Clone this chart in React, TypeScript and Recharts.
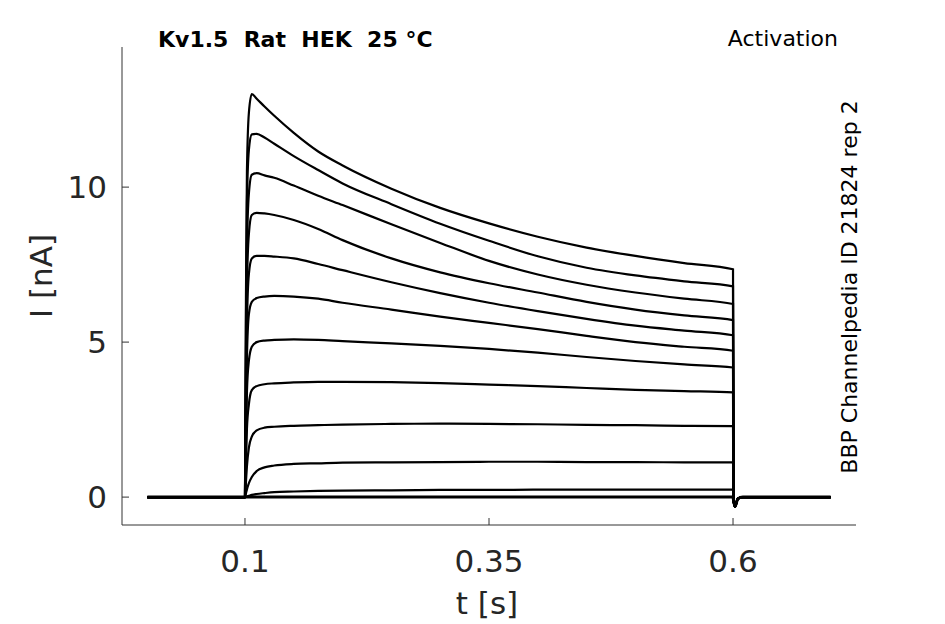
import { LineChart, Line, XAxis, YAxis } from 'recharts'

// sample times [s]
const times = [0, 0.1, 0.101, 0.102, 0.104, 0.107, 0.112, 0.12, 0.13, 0.15, 0.175, 0.2, 0.25, 0.3, 0.35, 0.4, 0.45, 0.5, 0.55, 0.6, 0.6005, 0.602, 0.605, 0.61, 0.7]

// currents [nA], one array per voltage step
const trace1 = [0, 0, 6.5, 10.5, 12.4, 13.0, 12.85, 12.6, 12.3, 11.75, 11.15, 10.7, 9.95, 9.33, 8.83, 8.4, 8.05, 7.78, 7.55, 7.35, -0.1, -0.3, -0.05, 0, 0]
const trace2 = [0, 0, 5.5, 9.5, 11.2, 11.7, 11.72, 11.6, 11.4, 11.0, 10.55, 10.12, 9.45, 8.82, 8.27, 7.77, 7.4, 7.15, 6.96, 6.8, -0.1, -0.3, -0.05, 0, 0]
const trace3 = [0, 0, 4.5, 8.0, 9.8, 10.4, 10.45, 10.38, 10.3, 10.05, 9.72, 9.42, 8.8, 8.2, 7.62, 7.18, 6.85, 6.6, 6.4, 6.23, -0.1, -0.3, -0.05, 0, 0]
const trace4 = [0, 0, 3.8, 6.8, 8.5, 9.1, 9.17, 9.15, 9.1, 8.94, 8.65, 8.29, 7.7, 7.25, 6.9, 6.6, 6.3, 6.05, 5.86, 5.71, -0.1, -0.3, -0.05, 0, 0]
const trace5 = [0, 0, 3.0, 5.6, 7.2, 7.7, 7.78, 7.78, 7.76, 7.7, 7.52, 7.32, 6.93, 6.58, 6.27, 6.0, 5.75, 5.53, 5.37, 5.22, -0.1, -0.3, -0.05, 0, 0]
const trace6 = [0, 0, 2.4, 4.5, 5.9, 6.3, 6.42, 6.47, 6.49, 6.47, 6.4, 6.27, 6.05, 5.82, 5.62, 5.42, 5.2, 5.0, 4.85, 4.72, -0.1, -0.3, -0.05, 0, 0]
const trace7 = [0, 0, 1.8, 3.4, 4.4, 4.85, 5.0, 5.05, 5.07, 5.09, 5.07, 5.03, 4.96, 4.88, 4.78, 4.66, 4.52, 4.39, 4.28, 4.18, -0.1, -0.3, -0.05, 0, 0]
const trace8 = [0, 0, 1.1, 2.2, 3.0, 3.45, 3.58, 3.64, 3.67, 3.7, 3.72, 3.72, 3.71, 3.68, 3.63, 3.58, 3.52, 3.46, 3.42, 3.38, -0.1, -0.3, -0.05, 0, 0]
const trace9 = [0, 0, 0.5, 1.0, 1.6, 1.95, 2.15, 2.24, 2.27, 2.3, 2.32, 2.34, 2.36, 2.37, 2.36, 2.35, 2.33, 2.32, 2.3, 2.29, -0.1, -0.3, -0.05, 0, 0]
const trace10 = [0, 0, 0.12, 0.25, 0.45, 0.65, 0.84, 0.96, 1.02, 1.07, 1.09, 1.11, 1.12, 1.13, 1.14, 1.14, 1.13, 1.13, 1.12, 1.12, -0.1, -0.3, -0.05, 0, 0]
const trace11 = [0, 0, 0.01, 0.02, 0.04, 0.07, 0.1, 0.13, 0.16, 0.18, 0.2, 0.21, 0.22, 0.23, 0.23, 0.24, 0.24, 0.24, 0.24, 0.24, -0.1, -0.3, -0.05, 0, 0]
const trace12 = [0, 0, 0, 0, 0, 0, 0, 0, 0, 0, 0, 0, 0, 0, 0, 0, 0, 0, 0, 0, -0.1, -0.3, -0.05, 0, 0]

const traces = [trace1, trace2, trace3, trace4, trace5, trace6, trace7, trace8, trace9, trace10, trace11, trace12]

const xTicks = [0.1, 0.35, 0.6]
const yTicks = [0, 5, 10]

const data = times.map((t, i) => {
  const row: Record<string, number> = { t }
  traces.forEach((tr, k) => { row[`s${k}`] = tr[i] })
  return row
})

const FONT = '"DejaVu Sans", sans-serif'
const AXIS = '#333'
const TEXT = '#262626'

const YTick = (p: any) => (
  <g>
    <line x1={p.x} x2={p.x + 7} y1={p.y} y2={p.y} stroke={AXIS} strokeWidth={1} />
    <text x={p.x - 15} y={p.y + 11} textAnchor="end" fontSize={31} fontFamily={FONT} fill={TEXT}>
      {p.payload.value}
    </text>
  </g>
)

const XTick = (p: any) => (
  <g>
    <line x1={p.x} x2={p.x} y1={p.y} y2={p.y - 7} stroke={AXIS} strokeWidth={1} />
    <text x={p.x} y={p.y + 47} textAnchor="middle" fontSize={31} fontFamily={FONT} fill={TEXT}>
      {p.payload.value}
    </text>
  </g>
)

export default function App() {
  return (
    <div style={{ position: 'relative', width: 945, height: 624, background: '#fff' }}>
      <style>{'body { margin: 0; }'}</style>
      <LineChart
        width={945}
        height={624}
        data={data}
        margin={{ top: 47, right: 89, bottom: 39, left: 42 }}
      >
        <XAxis
          dataKey="t"
          type="number"
          domain={[-0.026, 0.726]}
          ticks={xTicks}
          interval={0}
          height={60}
          tickSize={0}
          tickMargin={0}
          tickLine={false}
          axisLine={{ stroke: AXIS, strokeWidth: 1 }}
          tick={XTick}
          allowDataOverflow
        />
        <YAxis
          type="number"
          domain={[-0.9, 14.52]}
          ticks={yTicks}
          interval={0}
          width={80}
          tickSize={0}
          tickMargin={0}
          tickLine={false}
          axisLine={{ stroke: AXIS, strokeWidth: 1 }}
          tick={YTick}
          allowDataOverflow
        />
        {traces.map((_, k) => (
          <Line
            key={k}
            dataKey={`s${k}`}
            type="monotone"
            stroke="#000"
            strokeWidth={k === traces.length - 1 ? 3 : 2.2}
            dot={false}
            isAnimationActive={false}
          />
        ))}
      </LineChart>
      <svg width={945} height={624} style={{ position: 'absolute', left: 0, top: 0, pointerEvents: 'none' }}>
        <text x={158} y={47} fontSize={22} fontWeight="bold" fontFamily={FONT} fill="#000" style={{ whiteSpace: 'pre' }}>
          {'Kv1.5  Rat  HEK  25 °C'}
        </text>
        <text x={838} y={46} textAnchor="end" fontSize={22} fontFamily={FONT} fill="#000">
          Activation
        </text>
        <text
          x={857}
          y={287}
          textAnchor="middle"
          fontSize={22}
          fontFamily={FONT}
          fill="#000"
          transform="rotate(-90 857 287)"
        >
          BBP Channelpedia ID 21824 rep 2
        </text>
        <text x={487} y={614} textAnchor="middle" fontSize={31} fontFamily={FONT} fill={TEXT}>
          t [s]
        </text>
        <text
          x={52}
          y={276}
          textAnchor="middle"
          fontSize={31}
          fontFamily={FONT}
          fill={TEXT}
          transform="rotate(-90 52 276)"
        >
          I [nA]
        </text>
      </svg>
    </div>
  )
}
